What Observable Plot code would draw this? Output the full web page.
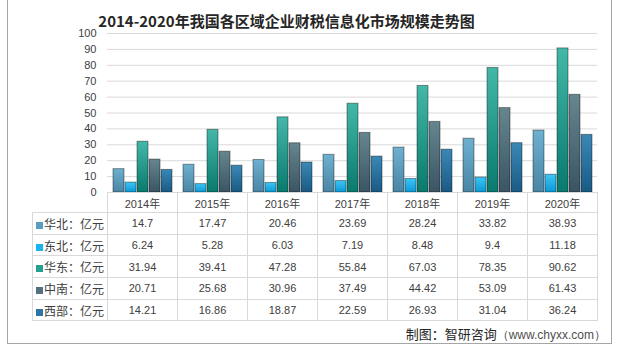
<!DOCTYPE html>
<html>
<head>
<meta charset="utf-8">
<script src="https://cdn.jsdelivr.net/npm/d3@7"></script>
<script src="https://cdn.jsdelivr.net/npm/@observablehq/plot@0.6"></script>
<style>
  html, body { margin: 0; padding: 0; background: #fff; }
  body { width: 622px; height: 354px; position: relative; overflow: hidden; }
  #frame { position: absolute; left: 7px; top: -1px; width: 605px; height: 345px; border: 1px solid #a6a6a6; box-sizing: border-box; }
  #title { position: absolute; left: 0; width: 573px; top: 10px; text-align: center; font: bold 15px "Noto Sans CJK SC", sans-serif; color: #262626; white-space: nowrap; }
  #chart { position: absolute; left: 0; top: 0; }
  #tbl { position: absolute; left: 32px; top: 192px; border-collapse: collapse; table-layout: fixed; }
  #tbl td { border: 1px solid #d9d9d9; padding: 0; text-align: center; font: 11px "Liberation Sans", "Noto Sans CJK SC", sans-serif; color: #404040; white-space: nowrap; overflow: hidden; }
  #tbl tr.head td { height: 19px; }
  #tbl tr.row td { height: 20.7px; }
  #tbl tr.head td.corner { border-top: none; border-left: none; }
  #tbl td.lab { text-align: left; padding-left: 3px; font: 12px "Noto Sans CJK SC", sans-serif; color: #404040; }
  #tbl td.lab span.sq { display: inline-block; width: 7px; height: 7px; margin-right: 1px; vertical-align: 0px; }
  #foot { position: absolute; right: 16px; top: 324px; font: 13px "Noto Sans CJK SC", sans-serif; color: #262626; white-space: nowrap; }
  #foot span { font: 12px "Liberation Sans", sans-serif; color: #505050; }
</style>
</head>
<body>
<div id="frame"></div>
<div id="chart"></div>
<div id="title">2014-2020年我国各区域企业财税信息化市场规模走势图</div>
<table id="tbl"></table>
<div id="foot">制图：智研咨询<span>（www.chyxx.com）</span></div>
<script>
const years = ["2014年", "2015年", "2016年", "2017年", "2018年", "2019年", "2020年"];
const series = ["华北", "东北", "华东", "中南", "西部"];
const seriesLabels = ["华北：亿元", "东北：亿元", "华东：亿元", "中南：亿元", "西部：亿元"];
const huabei   = [14.7, 17.47, 20.46, 23.69, 28.24, 33.82, 38.93];
const dongbei  = [6.24, 5.28, 6.03, 7.19, 8.48, 9.4, 11.18];
const huadong  = [31.94, 39.41, 47.28, 55.84, 67.03, 78.35, 90.62];
const zhongnan = [20.71, 25.68, 30.96, 37.49, 44.42, 53.09, 61.43];
const xibu     = [14.21, 16.86, 18.87, 22.59, 26.93, 31.04, 36.24];
const yTicks = [0, 10, 20, 30, 40, 50, 60, 70, 80, 90, 100];

const values = [huabei, dongbei, huadong, zhongnan, xibu];
const swatch = ["#5a9dbf", "#1bb2ee", "#23a090", "#52707f", "#2b76a4"];
const gradTop = ["#6eb0d0", "#3cc6f7", "#44b8a8", "#66868f", "#3a88b6"];
const gradBot = ["#4a85a4", "#0b98d6", "#087a6e", "#3a5464", "#1a5a84"];

const data = [];
series.forEach((s, i) => years.forEach((y, j) => data.push({year: y, series: s, value: values[i][j]})));

const chart = Plot.plot({
  width: 622,
  height: 193,
  marginLeft: 107,
  marginRight: 25,
  marginTop: 33,
  marginBottom: 1,
  style: {fontSize: "11px", fontFamily: "'Liberation Sans', 'Noto Sans CJK SC', sans-serif", color: "#404040", background: "transparent", overflow: "visible"},
  fx: {domain: years, padding: 0, axis: null},
  x: {domain: series, paddingInner: 0.12, paddingOuter: 0.35, axis: null},
  y: {domain: [0, 100], ticks: yTicks, tickSize: 0, tickPadding: 11, label: null},
  color: {domain: series, range: series.map((_, i) => `url(#g${i})`)},
  marks: [
    Plot.gridY(yTicks, {stroke: "#d9d9d9", strokeOpacity: 1}),
    Plot.barY(data, {fx: "year", x: "series", y: "value", fill: "series", stroke: "#000", strokeOpacity: 0.4, strokeWidth: 1})
  ]
});

const defs = d3.select(chart).insert("defs", ":first-child");
series.forEach((s, i) => {
  const g = defs.append("linearGradient").attr("id", `g${i}`).attr("x1", 0).attr("y1", 0).attr("x2", 0).attr("y2", 1);
  g.append("stop").attr("offset", "0%").attr("stop-color", gradTop[i]);
  g.append("stop").attr("offset", "100%").attr("stop-color", gradBot[i]);
});
document.getElementById("chart").appendChild(chart);

// data table below the plot
const tbl = d3.select("#tbl");
const cg = tbl.append("colgroup");
cg.append("col").style("width", "75px");
years.forEach(() => cg.append("col").style("width", "70px"));
const head = tbl.append("tr").attr("class", "head");
head.append("td").attr("class", "corner");
years.forEach(y => head.append("td").text(y));
series.forEach((s, i) => {
  const tr = tbl.append("tr").attr("class", "row");
  const lab = tr.append("td").attr("class", "lab");
  lab.append("span").attr("class", "sq").style("background", swatch[i]);
  lab.append("span").text(seriesLabels[i]);
  values[i].forEach(v => tr.append("td").text(String(v)));
});
</script>
</body>
</html>
